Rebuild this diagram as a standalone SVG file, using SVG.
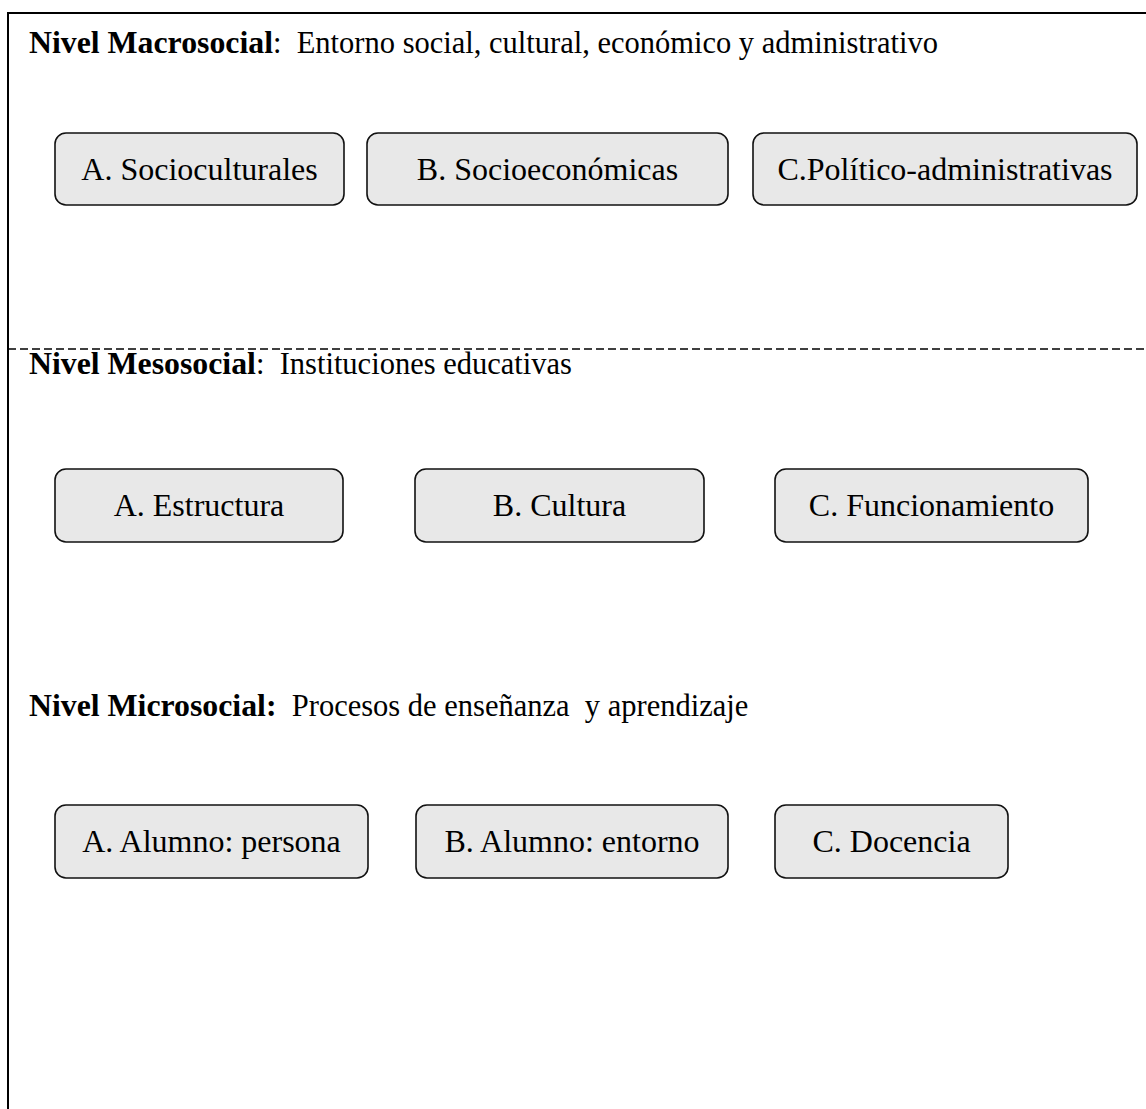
<svg xmlns="http://www.w3.org/2000/svg" width="1146" height="1109" viewBox="0 0 1146 1109">
  <style>
    .frame { fill: none; stroke: #000; stroke-width: 2; }
    .divider { stroke: #000; stroke-width: 1.5; stroke-dasharray: 8 4; }
    .box { fill: #e8e8e8; stroke: #111; stroke-width: 1.6; }
    .label { font-family: "Liberation Serif", "Times New Roman", serif; font-size: 32px; fill: #000; text-anchor: middle; }
    .title { font-family: "Liberation Serif", "Times New Roman", serif; font-size: 30.5px; fill: #000; }
    .b { font-weight: bold; font-size: 31.8px; }
  </style>
  <rect width="1146" height="1109" fill="#fff"/>
  <!-- outer frame, open past the right and bottom edges -->
  <rect class="frame" x="8" y="13" width="1160" height="1120"/>
  <g id="connectors">
    <line class="divider" x1="8" y1="349" x2="1146" y2="349"/>
  </g>

  <!-- level titles -->
  <g id="title-macro">
    <text class="title" x="29" y="53" xml:space="preserve"><tspan class="b">Nivel Macrosocial</tspan>:  Entorno social, cultural, económico y administrativo</text>
  </g>
  <g id="title-meso">
    <text class="title" x="29" y="374" xml:space="preserve"><tspan class="b">Nivel Mesosocial</tspan>:  Instituciones educativas</text>
  </g>
  <g id="title-micro">
    <text class="title" x="29" y="716" xml:space="preserve"><tspan class="b">Nivel Microsocial:</tspan>  Procesos de enseñanza  y aprendizaje</text>
  </g>

  <!-- macro level -->
  <g id="macro-a">
    <rect class="box" x="55" y="133" width="289" height="72" rx="11"/>
    <text class="label" x="199.5" y="180">A. Socioculturales</text>
  </g>
  <g id="macro-b">
    <rect class="box" x="367" y="133" width="361" height="72" rx="11"/>
    <text class="label" x="547.5" y="180">B. Socioeconómicas</text>
  </g>
  <g id="macro-c">
    <rect class="box" x="753" y="133" width="384" height="72" rx="11"/>
    <text class="label" x="945" y="180">C.Político-administrativas</text>
  </g>

  <!-- meso level -->
  <g id="meso-a">
    <rect class="box" x="55" y="469" width="288" height="73" rx="11"/>
    <text class="label" x="199" y="516">A. Estructura</text>
  </g>
  <g id="meso-b">
    <rect class="box" x="415" y="469" width="289" height="73" rx="11"/>
    <text class="label" x="559.5" y="516">B. Cultura</text>
  </g>
  <g id="meso-c">
    <rect class="box" x="775" y="469" width="313" height="73" rx="11"/>
    <text class="label" x="931.5" y="516">C. Funcionamiento</text>
  </g>

  <!-- micro level -->
  <g id="micro-a">
    <rect class="box" x="55" y="805" width="313" height="73" rx="11"/>
    <text class="label" x="211.5" y="852">A. Alumno: persona</text>
  </g>
  <g id="micro-b">
    <rect class="box" x="416" y="805" width="312" height="73" rx="11"/>
    <text class="label" x="572" y="852">B. Alumno: entorno</text>
  </g>
  <g id="micro-c">
    <rect class="box" x="775" y="805" width="233" height="73" rx="11"/>
    <text class="label" x="891.5" y="852">C. Docencia</text>
  </g>
</svg>
